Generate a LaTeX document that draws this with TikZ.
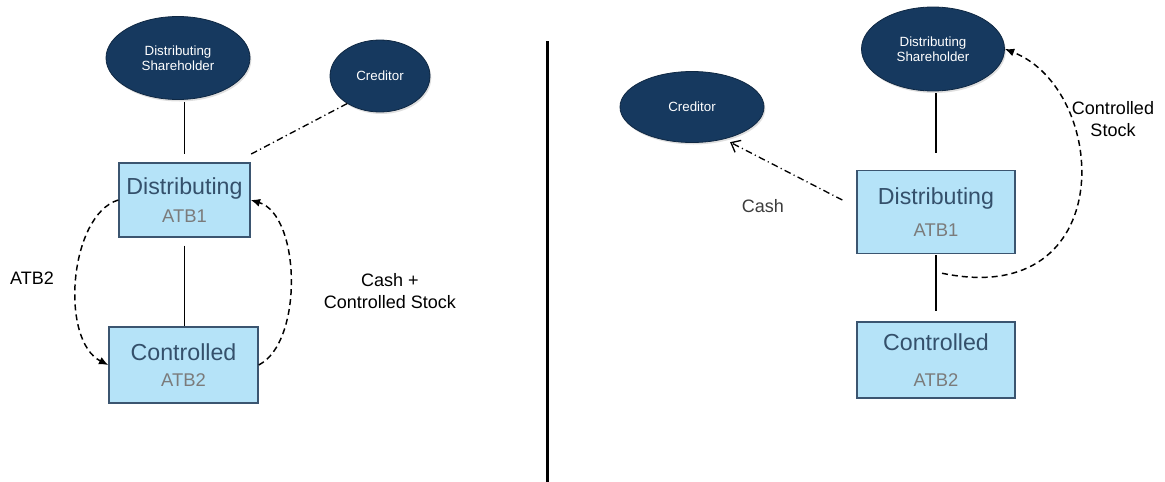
\documentclass[tikz,border=0pt]{standalone}
\usepackage{fontspec}
\setmainfont{Liberation Sans}
\usetikzlibrary{shapes.geometric, arrows.meta, positioning, calc, shadows}

\definecolor{navy}{HTML}{16395F}
\definecolor{boxfill}{HTML}{B5E3F8}
\definecolor{boxedge}{HTML}{3B5570}
\definecolor{boxtext}{HTML}{34506B}
\definecolor{atbgray}{HTML}{7B7B7B}
\definecolor{cashgray}{HTML}{3C3C3C}

\tikzset{
  party/.style={ellipse, fill=navy, draw=navy!70!black, line width=0.6pt, text=white,
    inner sep=0pt, align=center, font=\fontsize{10}{11.5}\selectfont,
    drop shadow={opacity=0.25, shadow xshift=1pt, shadow yshift=-1.5pt}},
  corp/.style={rectangle, fill=boxfill, draw=boxedge, line width=1.1pt, inner sep=0pt,
    align=center, text=boxtext, font=\fontsize{17.4}{20}\selectfont},
  flowlabel/.style={align=center, font=\fontsize{13.5}{17}\selectfont},
  tie/.style={line width=1pt},
  transfer/.style={line width=1.1pt, dash pattern=on 4.5pt off 3pt, -{Latex[length=7pt,width=6pt]}},
  payment/.style={line width=1pt, dash pattern=on 5pt off 2.5pt on 0.9pt off 2.5pt},
}
\newcommand{\atb}[1]{{\fontsize{13.8}{16}\selectfont\color{atbgray}#1}}

\begin{document}
\begin{tikzpicture}[x=0.75pt, y=-0.75pt]
\useasboundingbox (0,0) rectangle (1165,482);

% before: distribution of ATB2
\node[party, minimum width=108pt, minimum height=62.25pt] (dsL) at (178,58) {Distributing\\Shareholder};
\node[party, minimum width=75pt, minimum height=54pt] (credL) at (380,76) {Creditor};
\node[corp, minimum width=98.25pt, minimum height=55.5pt] (distL) at (184.5,200) {Distributing\\[1pt]\atb{ATB1}};
\node[corp, minimum width=111.75pt, minimum height=57pt] (ctrlL) at (183.5,365) {Controlled\\[0pt]\atb{ATB2}};
\node[flowlabel] (atbL) at (32,278) {ATB2};
\node[flowlabel] (cashL) at (390,291) {Cash +\\Controlled Stock};

\draw[tie, shorten <=1.5pt, shorten >=6pt] (distL.north |- dsL.south) -- (distL.north);
\draw[tie, shorten <=6pt] (distL.south) -- (distL.south |- ctrlL.north);
\draw[payment] (credL.220) -- ([yshift=6pt]distL.north east);
\draw[transfer] (distL.west) .. controls +(-49,15) and +(-49,-25) .. (ctrlL.west);
\draw[transfer] (ctrlL.east) .. controls +(45,-23) and +(50,15) .. (distL.east);

% divider
\draw[line width=2.25pt] (547,41) -- (547,482);

% after: distribution of stock and cash
\node[party, minimum width=108pt, minimum height=53.25pt] (credR) at (692,107) {Creditor};
\node[party, minimum width=107.25pt, minimum height=63pt] (dsR) at (933,49) {Distributing\\Shareholder};
\node[corp, minimum width=118.5pt, minimum height=62.25pt] (distR) at (936,212) {Distributing\\[4pt]\atb{ATB1}};
\node[corp, minimum width=118.5pt, minimum height=57pt] (ctrlR) at (936,360) {Controlled\\[7pt]\atb{ATB2}};
\node[flowlabel, text=cashgray] (cashR) at (763,206) {Cash};
\node[flowlabel] (stockR) at (1113,119) {Controlled\\Stock};
\coordinate (cashFrom) at ($(distR.west)+(-14,-12)$);
\coordinate (stockFrom) at ($(distR.south)+(6,19)$);

\draw[tie, shorten <=1.5pt, shorten >=12.75pt] (distR.north |- dsR.south) -- (distR.north);
\draw[tie, shorten <=0.75pt, shorten >=7.5pt] (distR.south) -- (distR.south |- ctrlR.north);
\draw[payment, shorten >=5pt, -{Straight Barb[length=6pt,width=10pt]}] (cashFrom) -- (credR.-45);
\draw[transfer] (stockFrom) .. controls +(178,37) and +(105,41) .. (dsR.east);
\end{tikzpicture}
\end{document}
